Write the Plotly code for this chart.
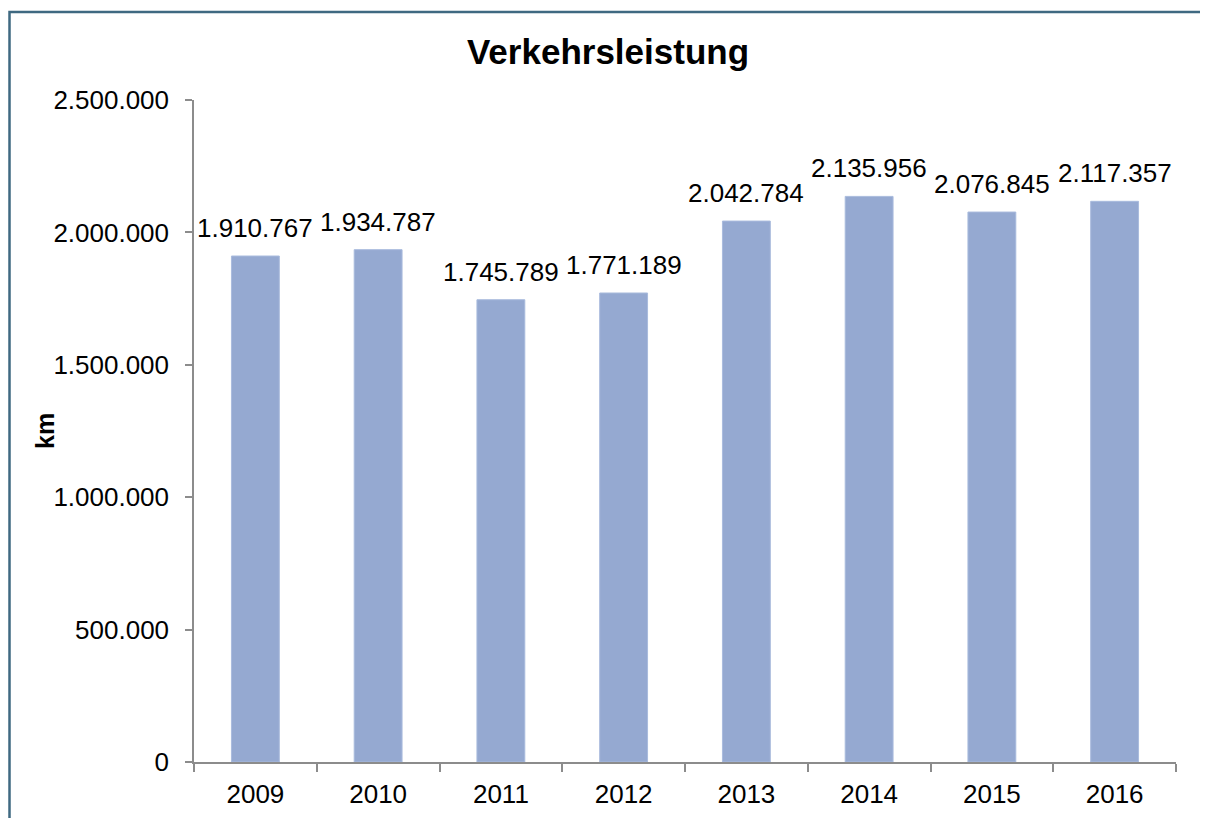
import plotly.graph_objects as go

years = ["2009", "2010", "2011", "2012", "2013", "2014", "2015", "2016"]
values = [1910767, 1934787, 1745789, 1771189, 2042784, 2135956, 2076845, 2117357]
y_ticks = [0, 500000, 1000000, 1500000, 2000000, 2500000]
title_text = "Verkehrsleistung"
y_title = "km"

# page body has an 8px margin, so the figure sits at (8, 8)
W, H = 1200, 810
L, R, T, B = 186, 32, 92, 56
pw, ph = W - L - R, H - T - B

def de(n):
    return f"{n:,}".replace(",", ".")

fig = go.Figure()
fig.add_trace(go.Bar(
    x=years, y=values,
    marker=dict(color="#95A9D1", line=dict(color="#A9BBDD", width=1)),
    hoverinfo="x+y",
))

for i, yv in enumerate(values):
    fig.add_annotation(
        x=i, y=yv, xref="x", yref="y", text=de(yv), showarrow=False,
        yanchor="bottom", xanchor="center", yshift=11,
        font=dict(family="Liberation Sans, Arial", size=26, color="black"),
    )

fig.add_annotation(
    x=(37 - L) / pw, y=0.5, xref="paper", yref="paper", text=f"<b>{y_title}</b>",
    textangle=-90, showarrow=False, xanchor="center", yanchor="middle",
    font=dict(family="Liberation Sans, Arial", size=25, color="black"),
)

# outer chart border
fig.add_shape(
    type="rect", xref="paper", yref="paper",
    x0=(1.5 - L) / pw, x1=(W + 20 - L) / pw,
    y0=(H - B - (H + 20)) / ph, y1=(H - B - 4) / ph,
    line=dict(color="#3F6981", width=2.5), fillcolor="rgba(0,0,0,0)", layer="below",
)

fig.update_layout(
    width=W, height=H,
    margin=dict(l=L, r=R, t=T, b=B),
    paper_bgcolor="white", plot_bgcolor="white",
    separators=",.",
    bargap=0.61,
    showlegend=False,
    title=dict(text=f"<b>{title_text}</b>", x=0.5, xanchor="center",
               y=1 - 44 / H, yanchor="middle", yref="container",
               font=dict(family="Liberation Sans, Arial", size=35, color="black")),
    font=dict(family="Liberation Sans, Arial", size=26, color="black"),
)
fig.update_xaxes(
    type="category", range=[-0.5, len(years) - 0.5],
    showline=True, linecolor="#8C8C8C", linewidth=1.5,
    ticks="outside", tickson="boundaries", ticklen=8, tickcolor="#8C8C8C", tickwidth=1.5,
    ticklabelstandoff=8,
    showgrid=False, zeroline=False, automargin=False,
    tickfont=dict(size=26, color="black"),
)
fig.update_yaxes(
    range=[0, 2500000], tickvals=y_ticks, ticktext=[de(v) for v in y_ticks],
    showline=True, linecolor="#8C8C8C", linewidth=1.5,
    ticks="outside", ticklen=7, tickcolor="#8C8C8C", tickwidth=1.5,
    ticklabelstandoff=11,
    showgrid=False, zeroline=False, automargin=False,
    tickfont=dict(size=26, color="black"),
)

fig.write_html("out.html")
